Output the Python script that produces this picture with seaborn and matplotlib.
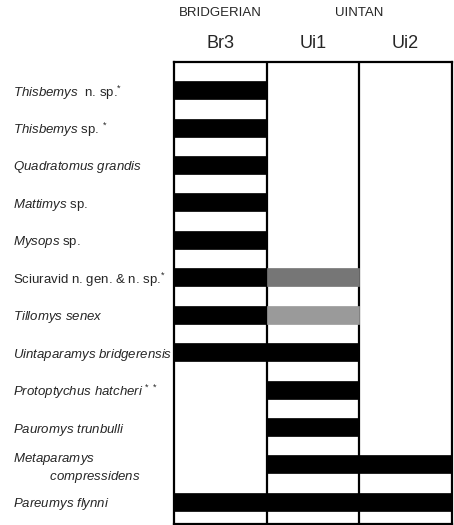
import pandas as pd
import matplotlib.pyplot as plt
import seaborn as sns

# taxa, top to bottom
taxa = ['Thisbemys n. sp.', 'Thisbemys sp.', 'Quadratomus grandis', 'Mattimys sp.',
        'Mysops sp.', 'Sciuravid n. gen. & n. sp.', 'Tillomys senex',
        'Uintaparamys bridgerensis', 'Protoptychus hatcheri', 'Pauromys trunbulli',
        'Metaparamys compressidens', 'Pareumys flynni']
labels = [r'$\mathit{Thisbemys}$  n. sp.$^{*}$',
          r'$\mathit{Thisbemys}$ sp. $^{*}$',
          r'$\mathit{Quadratomus\ grandis}$',
          r'$\mathit{Mattimys}$ sp.',
          r'$\mathit{Mysops}$ sp.',
          r'Sciuravid n. gen. & n. sp.$^{*}$',
          r'$\mathit{Tillomys\ senex}$',
          r'$\mathit{Uintaparamys\ bridgerensis}$',
          r'$\mathit{Protoptychus\ hatcheri}$ $^{*\ *}$',
          r'$\mathit{Pauromys\ trunbulli}$',
          '$\\mathit{Metaparamys}$\n          $\\mathit{compressidens}$',
          r'$\mathit{Pareumys\ flynni}$']

stages = ['Br3', 'Ui1', 'Ui2']
# index of first / last stage with a confirmed record
first_stage = [0, 0, 0, 0, 0, 0, 0, 0, 1, 1, 1, 0]
last_stage = [0, 0, 0, 0, 0, 0, 0, 1, 1, 1, 2, 2]
# uncertain records (shaded grey)
grey_taxa = ['Sciuravid n. gen. & n. sp.', 'Tillomys senex']
grey_stage = [1, 1]
grey_shade = ['dark', 'light']

shade_colors = {'black': '#000000', 'dark': '#767676', 'light': '#9a9a9a'}

rows = []
for t, a, b in zip(taxa, first_stage, last_stage):
    for s in range(a, b + 1):
        rows.append({'taxon': t, 'stage': s, 'shade': 'black', 'span': 1})
for t, s, sh in zip(grey_taxa, grey_stage, grey_shade):
    rows.append({'taxon': t, 'stage': s, 'shade': sh, 'span': 1})
df = pd.DataFrame(rows)

sns.set_style('white')
plt.rcParams['font.family'] = ['Liberation Sans', 'DejaVu Sans']
plt.rcParams['mathtext.fontset'] = 'custom'
plt.rcParams['mathtext.rm'] = 'Liberation Sans'
plt.rcParams['mathtext.it'] = 'Liberation Sans:italic'

fig = plt.figure(figsize=(4.54, 5.25), dpi=100)
ax = fig.add_axes([174 / 454, 1 - 524 / 525, 278 / 454, 462 / 525])

for (stage, shade), grp in df.groupby(['stage', 'shade']):
    sns.barplot(data=grp, x='span', y='taxon', order=taxa, orient='h',
                color=shade_colors[shade], left=stage, width=0.48,
                errorbar=None, edgecolor=shade_colors[shade], linewidth=0.5,
                saturation=1, ax=ax)

# column dividers sit under the bars
for s in range(1, len(stages)):
    ax.axvline(s, color='black', lw=1.6, zorder=0.5)

ax.set_xlim(0, len(stages))
ax.set_ylim(len(taxa) - 1 + 0.59, -0.75)
ax.set_xlabel('')
ax.set_ylabel('')

ax.xaxis.tick_top()
ax.set_xticks([i + 0.5 for i in range(len(stages))])
ax.set_xticklabels(stages, fontsize=13)
ax.tick_params(axis='x', length=0, pad=7)

ax.set_yticks(range(len(taxa)))
ax.set_yticklabels(labels, fontsize=9.5)
ax.tick_params(axis='y', length=0, pad=116)
for lab in ax.get_yticklabels():
    lab.set_ha('left')

for sp in ax.spines.values():
    sp.set_visible(True)
    sp.set_color('black')
    sp.set_linewidth(1.6)

ax.text(0.5, 1.105, 'BRIDGERIAN', transform=ax.get_xaxis_transform(),
        ha='center', va='center', fontsize=9.5)
ax.text(2.0, 1.105, 'UINTAN', transform=ax.get_xaxis_transform(),
        ha='center', va='center', fontsize=9.5)

fig.savefig('out.png', dpi=100)
